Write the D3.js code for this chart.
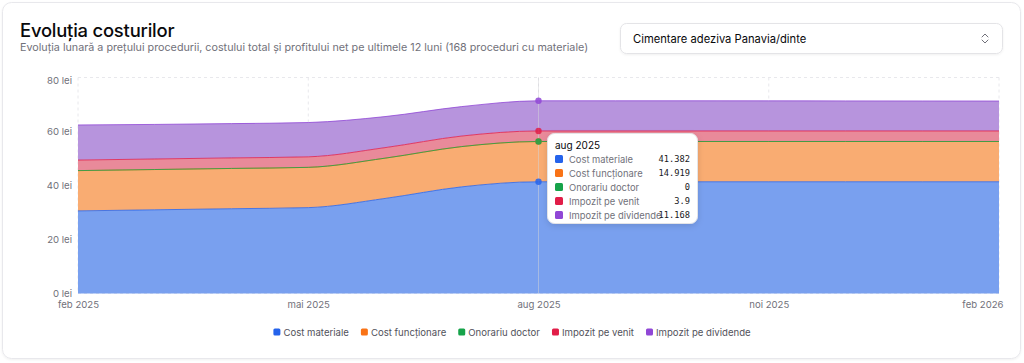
<!DOCTYPE html>
<html><head><meta charset="utf-8">
<script src="https://cdn.jsdelivr.net/npm/d3@7/dist/d3.min.js"></script>
<style>
html,body{margin:0;padding:0;background:#fff;}
svg{display:block;font-family:Inter,"Noto Sans",sans-serif;}
</style></head>
<body>
<svg id="c" width="1024" height="363"></svg>
<script>
// ---- data ----
const months = ["feb 2025","mar 2025","apr 2025","mai 2025","iun 2025","iul 2025","aug 2025","sep 2025","oct 2025","noi 2025","dec 2025","ian 2026","feb 2026"];
const seriesNames = ["Cost materiale","Cost funcționare","Onorariu doctor","Impozit pe venit","Impozit pe dividende"];
const costMateriale   = [30.6, 31.0, 31.4, 31.8, 35.2, 39.5, 41.382, 41.382, 41.382, 41.382, 41.382, 41.382, 41.382];
const costFunctionare = [14.919,14.919,14.919,14.919,14.919,14.919,14.919,14.919,14.919,14.919,14.919,14.919,14.919];
const onorariuDoctor  = [0,0,0,0,0,0,0,0,0,0,0,0,0];
const impozitVenit    = [3.9,3.9,3.9,3.9,3.9,3.9,3.9,3.9,3.9,3.9,3.9,3.9,3.9];
const impozitDividende= [13.0, 12.8, 12.7, 12.7, 11.5, 10.9, 11.168, 11.168, 11.168, 11.15, 11.12, 11.1, 11.08];
const yTicks = [0,20,40,60,80];
const xTickLabels = ["feb 2025","mai 2025","aug 2025","noi 2025","feb 2026"];
const tooltipMonth = "aug 2025";
const tooltipValues = ["41.382","14.919","0","3.9","11.168"];
const title = "Evoluția costurilor";
const subtitle = "Evoluția lunară a prețului procedurii, costului total și profitului net pe ultimele 12 luni (168 proceduri cu materiale)";
const selectLabel = "Cimentare adeziva Panavia/dinte";

// ---- styles ----
const strokeColors = ["#2563eb","#f97316","#16a34a","#e11d48","#9047d6"];
const fillColors   = ["#79a0ef","#f9ac72","#7cc896","#e98a9a","#b794dd"];

const keys = ["m","f","o","v","d"];
const rows = months.map((mo,i)=>({month:mo, m:costMateriale[i], f:costFunctionare[i], o:onorariuDoctor[i], v:impozitVenit[i], d:impozitDividende[i]}));

const svg = d3.select("#c");
const defs = svg.append("defs");
const f1 = defs.append("filter").attr("id","sh").attr("x","-20%").attr("y","-20%").attr("width","140%").attr("height","150%");
f1.append("feDropShadow").attr("dx",0).attr("dy",1).attr("stdDeviation",1).attr("flood-color","#000").attr("flood-opacity",0.06);
const f2 = defs.append("filter").attr("id","sh2").attr("x","-20%").attr("y","-20%").attr("width","140%").attr("height","150%");
f2.append("feDropShadow").attr("dx",0).attr("dy",2).attr("stdDeviation",3).attr("flood-color","#000").attr("flood-opacity",0.12);

// card
svg.append("rect").attr("x",2.5).attr("y",2.5).attr("width",1018).attr("height",356).attr("rx",9)
  .attr("fill","#fff").attr("stroke","#e8e8ec").attr("filter","url(#sh)");

svg.append("text").attr("x",20).attr("y",37).text(title)
  .attr("font-size",18.4).attr("font-weight",500).attr("fill","#09090b").attr("letter-spacing","-0.2");
svg.append("text").attr("x",20).attr("y",51).text(subtitle)
  .attr("font-size",10.75).attr("fill","#71717a");

// select
svg.append("rect").attr("x",620.5).attr("y",23.5).attr("width",382).attr("height",30).attr("rx",6)
  .attr("fill","#fff").attr("stroke","#e4e4e7").attr("filter","url(#sh)");
svg.append("text").attr("x",633).attr("y",38.5).attr("dominant-baseline","central").text(selectLabel)
  .attr("font-size",11.2).attr("fill","#09090b");
const ch = svg.append("g").attr("transform","translate(985,38.5)").attr("fill","none").attr("stroke","#71717a").attr("stroke-width",1).attr("stroke-linecap","round").attr("stroke-linejoin","round");
ch.append("path").attr("d","M-3,-1.5 L0,-4.5 L3,-1.5");
ch.append("path").attr("d","M-3,1.5 L0,4.5 L3,1.5");

// scales
const x = d3.scalePoint().domain(months).range([78, 999]);
const y = d3.scaleLinear().domain([0,80]).range([293.5, 77.5]);

// grid
const grid = svg.append("g").attr("stroke","#e8e8ec").attr("stroke-dasharray","3 3").attr("stroke-width",1);
yTicks.forEach(t=>grid.append("line").attr("x1",78).attr("x2",999).attr("y1",y(t)).attr("y2",y(t)));
xTickLabels.forEach(t=>grid.append("line").attr("x1",x(t)).attr("x2",x(t)).attr("y1",y(80)).attr("y2",y(0)));

// stack
const stack = d3.stack().keys(keys)(rows);
const area = d3.area().x(d=>x(d.data.month)).y0(d=>y(d[0])).y1(d=>y(d[1])).curve(d3.curveMonotoneX);
const line = d3.line().x(d=>x(d.data.month)).y(d=>y(d[1])).curve(d3.curveMonotoneX);
const g = svg.append("g");
stack.forEach((s,i)=>{
  g.append("path").attr("d",area(s)).attr("fill",fillColors[i]);
});
stack.forEach((s,i)=>{
  g.append("path").attr("d",line(s)).attr("fill","none").attr("stroke",strokeColors[i]).attr("stroke-width",1).attr("stroke-opacity",0.8);
});

// y axis labels
const yAxis = d3.axisLeft(y).tickValues(yTicks).tickSize(0).tickPadding(6).tickFormat(d=>d+" lei");
const ya = svg.append("g").attr("transform","translate(78,0)").call(yAxis);
ya.select(".domain").remove();
ya.selectAll("text").attr("font-size",9.6).attr("fill","#71717a").attr("font-family","Inter,sans-serif");
ya.selectAll(".tick").filter(d=>d===80).select("text").attr("dy","0.62em");

// x axis labels
const xAxis = d3.axisBottom(x).tickValues(xTickLabels).tickSize(0).tickPadding(5);
const xa = svg.append("g").attr("transform","translate(0,296)").call(xAxis);
xa.select(".domain").remove();
xa.selectAll("text").attr("font-size",9.6).attr("fill","#71717a").attr("font-family","Inter,sans-serif");
xa.selectAll(".tick").filter(d=>d===xTickLabels[xTickLabels.length-1]).select("text").attr("text-anchor","end").attr("dx",4);

// hover cursor + dots
const hx = x(tooltipMonth);
svg.append("line").attr("x1",hx).attr("x2",hx).attr("y1",y(80)).attr("y2",y(0)).attr("stroke","#d4d4d8").attr("stroke-opacity",0.5).attr("stroke-width",1);
const hi = months.indexOf(tooltipMonth);
stack.forEach((s,i)=>{
  svg.append("circle").attr("cx",hx).attr("cy",y(s[hi][1])).attr("r",3.2).attr("fill",strokeColors[i]).attr("fill-opacity",0.85);
});

// tooltip
const tt = svg.append("g").attr("transform","translate(547,133)");
tt.append("rect").attr("x",0.5).attr("y",0.5).attr("width",150).attr("height",90).attr("rx",7).attr("fill","#fff").attr("stroke","#e4e4e7").attr("filter","url(#sh2)");
tt.append("text").attr("x",8).attr("y",12).attr("dominant-baseline","central").text(tooltipMonth).attr("font-size",10).attr("fill","#09090b");
seriesNames.forEach((n,i)=>{
  const yy = 26 + i*14;
  tt.append("rect").attr("x",8).attr("y",yy-4).attr("width",8).attr("height",8).attr("rx",1.5).attr("fill",strokeColors[i]);
  tt.append("text").attr("x",22).attr("y",yy).attr("dominant-baseline","central").text(n).attr("font-size",9.4).attr("fill","#71717a");
  tt.append("text").attr("x",143).attr("y",yy).attr("dominant-baseline","central").attr("text-anchor","end").text(tooltipValues[i])
    .attr("font-size",8.7).attr("fill","#18181b").attr("font-family","'DejaVu Sans Mono',monospace");
});

// legend
const lg = svg.append("g");
let cx = 0;
seriesNames.forEach((n,i)=>{
  const it = lg.append("g");
  it.append("rect").attr("x",0).attr("y",-3.5).attr("width",7).attr("height",7).attr("rx",1.5).attr("fill",strokeColors[i]);
  const t = it.append("text").attr("x",10).attr("y",0).attr("dominant-baseline","central").text(n).attr("font-size",9.6).attr("fill","#52525b");
  const w = 10 + t.node().getComputedTextLength();
  it.attr("transform",`translate(${cx},0)`);
  cx += w + 12;
});
const total = cx - 12;
lg.attr("transform",`translate(${512 - total/2},332)`);
</script>
</body></html>
